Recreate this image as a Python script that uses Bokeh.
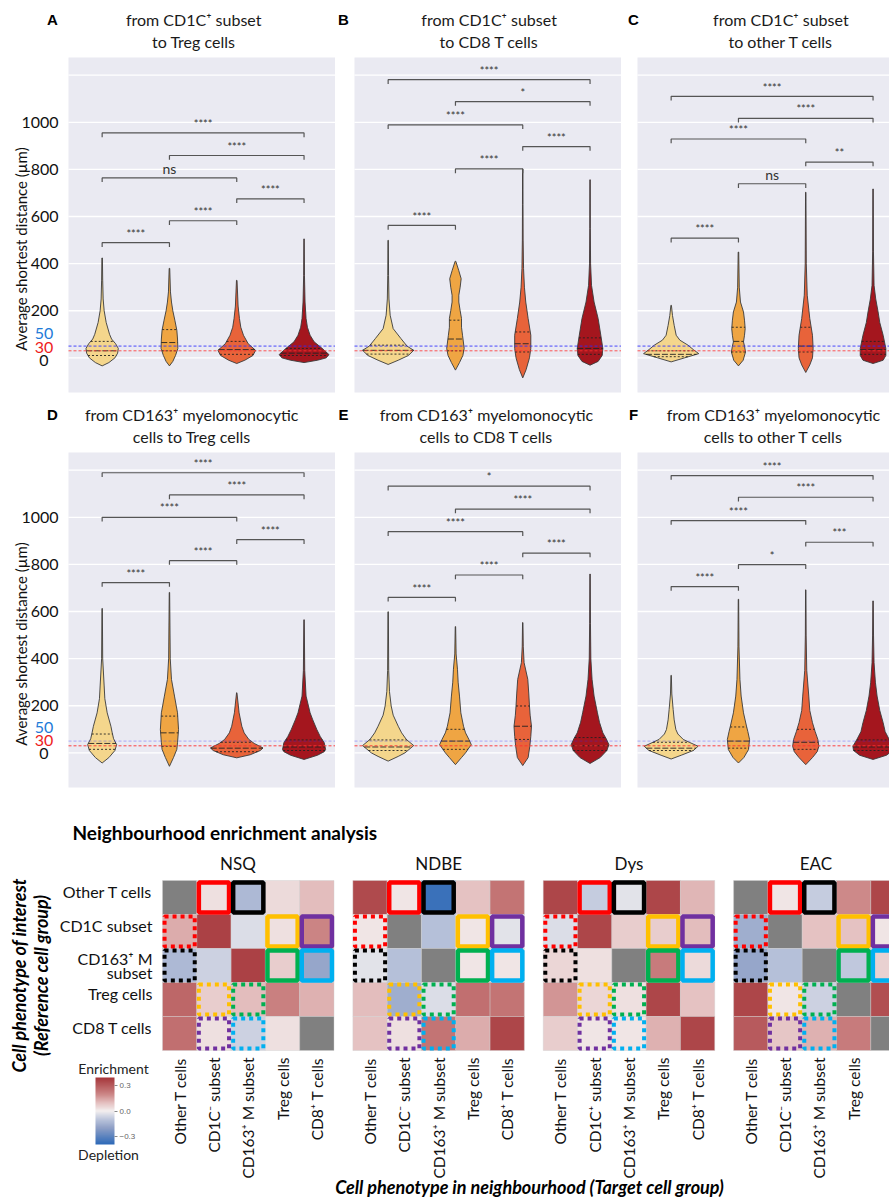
import math
import numpy as np
from bokeh.plotting import figure
from bokeh.models import (Label, Range1d, BoxAnnotation, ColorBar, LinearColorMapper,
                          FixedTicker, ColumnDataSource)
from bokeh.layouts import column, row
from bokeh.embed import file_html
from bokeh.resources import INLINE

# ----------------------------------------------------------------- data
violin_colors = ["#F4D68C", "#EFA543", "#E8633A", "#A4161E"]
thresholds = [50, 30]
y_ticks = [200, 400, 600, 800, 1000]
grid_ticks = [0, 200, 400, 600, 800, 1000, 1200]

panel_letters = ["A", "B", "C", "D", "E", "F"]
panel_titles = [
    ("from CD1C\u207a subset", "to Treg cells"),
    ("from CD1C\u207a subset", "to CD8 T cells"),
    ("from CD1C\u207a subset", "to other T cells"),
    ("from CD163\u207a myelomonocytic", "cells to Treg cells"),
    ("from CD163\u207a myelomonocytic", "cells to CD8 T cells"),
    ("from CD163\u207a myelomonocytic", "cells to other T cells"),
]

# violin profiles: (distance in um, half width in category units)
violins_A = [
    [(-34, 0), (-20, .10), (0, .19), (20, .23), (40, .24), (60, .20), (80, .14), (100, .11), (150, .06), (200, .03), (250, .015), (330, .008), (424, .004)],
    [(-34, 0), (-15, .05), (10, .09), (40, .125), (80, .12), (117, .11), (160, .08), (200, .05), (237, .03), (280, .015), (380, .004)],
    [(-24, 0), (-10, .12), (10, .24), (32, .28), (60, .17), (96, .10), (130, .06), (167, .04), (220, .02), (329, .004)],
    [(-20, 0), (-10, .20), (0, .33), (14, .37), (40, .27), (68, .15), (96, .09), (130, .05), (167, .03), (237, .015), (350, .006), (505, .003)],
]
violins_B = [
    [(-28, 0), (-10, .15), (10, .30), (32, .38), (50, .28), (82, .19), (124, .075), (181, .03), (250, .012), (350, .006), (499, .003)],
    [(-52, 0), (-20, .06), (10, .11), (40, .13), (96, .105), (130, .09), (167, .09), (200, .07), (237, .05), (266, .05), (300, .07), (336, .085), (370, .05), (410, .005)],
    [(-85, 0), (-50, .05), (0, .10), (40, .12), (96, .12), (167, .08), (237, .045), (300, .025), (379, .012), (500, .006), (650, .004), (802, .003)],
    [(-31, 0), (-15, .12), (10, .18), (40, .19), (96, .16), (167, .12), (237, .06), (308, .022), (400, .008), (550, .004), (756, .003)],
]
violins_C = [
    [(-17, 0), (0, .20), (18, .41), (35, .33), (54, .25), (75, .13), (96, .075), (138, .045), (180, .02), (223, .004)],
    [(-34, 0), (-10, .07), (25, .105), (50, .09), (68, .075), (96, .09), (124, .10), (160, .09), (195, .075), (237, .03), (300, .012), (449, .004)],
    [(-62, 0), (-30, .06), (0, .10), (40, .11), (96, .10), (167, .06), (266, .022), (400, .008), (703, .003)],
    [(-24, 0), (-10, .15), (10, .19), (40, .19), (96, .15), (150, .10), (195, .075), (250, .04), (308, .015), (450, .006), (717, .003)],
]
violins_D = [
    [(-43, 0), (-20, .10), (10, .19), (35, .215), (60, .17), (85, .15), (113, .13), (170, .075), (230, .04), (284, .03), (400, .008), (613, .003)],
    [(-57, 0), (-20, .06), (15, .11), (43, .12), (99, .135), (170, .12), (241, .075), (312, .03), (400, .012), (681, .003)],
    [(-21, 0), (-8, .20), (10, .35), (21, .39), (40, .26), (57, .18), (85, .11), (113, .075), (170, .035), (255, .003)],
    [(-28, 0), (-10, .20), (5, .30), (14, .32), (43, .30), (70, .24), (99, .19), (140, .13), (170, .09), (241, .03), (350, .01), (565, .003)],
]
violins_E = [
    [(-35, 0), (-15, .15), (0, .25), (31, .38), (57, .27), (85, .20), (113, .15), (160, .075), (199, .045), (260, .02), (350, .008), (599, .003)],
    [(-50, 0), (-20, .09), (0, .15), (35, .235), (57, .20), (85, .15), (113, .12), (170, .08), (241, .06), (300, .04), (355, .03), (420, .01), (536, .003)],
    [(-54, 0), (-20, .08), (28, .105), (70, .12), (113, .13), (160, .11), (199, .10), (250, .09), (312, .075), (383, .02), (450, .008), (553, .003)],
    [(-45, 0), (-20, .15), (10, .25), (35, .28), (60, .24), (85, .19), (130, .14), (170, .11), (241, .06), (312, .03), (400, .012), (550, .006), (759, .003)],
]
violins_F = [
    [(-26, 0), (-10, .15), (10, .33), (28, .40), (45, .27), (57, .18), (80, .10), (99, .07), (140, .045), (184, .03), (250, .01), (329, .003)],
    [(-43, 0), (-20, .08), (14, .15), (57, .165), (90, .14), (113, .12), (170, .075), (241, .04), (312, .022), (450, .008), (652, .003)],
    [(-50, 0), (-20, .10), (5, .17), (28, .195), (57, .18), (90, .14), (128, .10), (180, .06), (241, .045), (350, .015), (500, .006), (692, .003)],
    [(-28, 0), (-10, .20), (10, .29), (28, .30), (57, .24), (90, .18), (128, .15), (180, .10), (241, .06), (300, .035), (383, .015), (500, .007), (645, .003)],
]

# quartiles (q1, median, q3) for each violin
quart_A = [[10, 30, 70], [30, 65, 120], [15, 35, 70], [10, 20, 40]]
quart_B = [[16, 32, 54], [30, 80, 160], [25, 60, 110], [15, 40, 85]]
quart_C = [[5, 15, 30], [25, 70, 130], [25, 50, 130], [15, 35, 70]]
quart_D = [[15, 40, 80], [28, 85, 156], [5, 20, 45], [10, 25, 55]]
quart_E = [[10, 25, 55], [15, 50, 100], [57, 113, 199], [10, 30, 65]]
quart_F = [[10, 20, 45], [20, 50, 110], [15, 45, 100], [10, 25, 55]]

# significance brackets: (group i, group j, height in um, label)
brackets_A = [(0, 1, 489, "****"), (1, 2, 582, "****"), (0, 2, 764, "ns"), (2, 3, 675, "****"), (1, 3, 859, "****"), (0, 3, 955, "****")]
brackets_B = [(0, 1, 562, "****"), (1, 2, 802, "****"), (2, 3, 897, "****"), (0, 2, 989, "****"), (1, 3, 1088, "*"), (0, 3, 1181, "****")]
brackets_C = [(0, 1, 508, "****"), (1, 2, 739, "ns"), (2, 3, 831, "**"), (0, 2, 929, "****"), (1, 3, 1017, "****"), (0, 3, 1110, "****")]
brackets_D = [(0, 1, 723, "****"), (1, 2, 816, "****"), (2, 3, 905, "****"), (0, 2, 1000, "****"), (1, 3, 1095, "****"), (0, 3, 1189, "****")]
brackets_E = [(0, 1, 660, "****"), (1, 2, 755, "****"), (2, 3, 848, "****"), (0, 2, 939, "****"), (1, 3, 1035, "****"), (0, 3, 1132, "*")]
brackets_F = [(0, 1, 706, "****"), (1, 2, 799, "*"), (2, 3, 894, "***"), (0, 2, 986, "****"), (1, 3, 1085, "****"), (0, 3, 1177, "****")]

# heatmaps
heat_groups = ["NSQ", "NDBE", "Dys", "EAC"]
row_labels = ["Other T cells", "CD1C subset", "CD163\u207a M\nsubset", "Treg cells", "CD8 T cells"]
cols_NSQ = ["Other T cells", "CD1C\u207b subset", "CD163\u207a M subset", "Treg cells", "CD8\u207a T cells"]
cols_NDBE = ["Other T cells", "CD1C\u207b subset", "CD163\u207a M subset", "Treg cells", "CD8\u207a T cells"]
cols_Dys = ["Other T cells", "CD1C\u207a subset", "CD163\u207a M subset", "Treg cells", "CD8\u207a T cells"]
cols_EAC = ["Other T cells", "CD1C\u207b subset", "CD163\u207a M subset", "Treg cells", "CD8\u207a T cells"]
heat_NSQ = [[None, 0.03, -0.13, 0.04, 0.10],
            [0.13, 0.36, -0.04, 0.03, 0.20],
            [-0.13, -0.07, 0.36, 0.07, -0.18],
            [0.27, 0.07, 0.10, 0.21, 0.12],
            [0.25, 0.03, -0.07, 0.03, None]]
heat_NDBE = [[0.34, 0.02, -0.36, 0.09, 0.24],
             [0.02, None, -0.11, 0.02, -0.03],
             [-0.03, -0.11, None, 0.02, 0.02],
             [0.10, -0.16, -0.04, 0.25, 0.24],
             [0.09, 0.03, 0.24, 0.13, 0.35]]
heat_Dys = [[0.35, -0.08, -0.03, 0.35, 0.11],
            [-0.04, 0.35, 0.07, 0.07, 0.10],
            [0.05, 0.03, None, 0.22, 0.04],
            [0.17, 0.05, 0.03, 0.35, 0.09],
            [0.07, 0.02, 0.02, 0.12, 0.35]]
heat_EAC = [[None, 0.02, -0.08, 0.19, 0.35],
            [-0.16, None, 0.09, 0.09, 0.02],
            [-0.18, -0.11, None, -0.09, 0.06],
            [0.35, 0.02, -0.07, None, 0.33],
            [0.30, 0.08, 0.12, 0.22, None]]
# highlighted cells: (row, col, colour)
solid_boxes = [(0, 1, "#FF0000"), (0, 2, "#000000"), (1, 3, "#FFC000"), (1, 4, "#7030A0"), (2, 3, "#00B050"), (2, 4, "#00B0F0")]
dotted_boxes = [(1, 0, "#FF0000"), (2, 0, "#000000"), (3, 1, "#FFC000"), (3, 2, "#00B050"), (4, 1, "#7030A0"), (4, 2, "#00B0F0")]
cmap_stops = [-0.39, -0.2, -0.1, 0.0, 0.1, 0.2, 0.39]
cmap_colors = ["#2C69B8", "#8E9FC6", "#BAC4DB", "#F3EFEF", "#E3BDBD", "#CB8484", "#A5363A"]
cbar_ticks = [-0.3, 0, 0.3]

# ----------------------------------------------------------------- style / layout
FONT = "Lato"
BG = "#EAEAF2"
YR = (-147, 1275)          # visible distance range of each violin panel
PX_X = 67.3                # pixels per violin category
PLOT_H = 335               # pixel height of violin plot areas
PY = PLOT_H / (YR[1] - YR[0])


def lab(p, x, y, text, size="16px", color="#1a1a1a", align="center", baseline="middle",
        font=FONT, style="normal", angle=0.0):
    p.add_layout(Label(x=x, y=y, text=text, text_font=font, text_font_size=size,
                       text_color=color, text_align=align, text_baseline=baseline,
                       text_font_style=style, angle=angle, angle_units="rad"))


def canvas_fig(W, H, xr, yr):
    p = figure(width=W, height=H, x_range=Range1d(*xr), y_range=Range1d(*yr),
               x_axis_location=None, y_axis_location=None, toolbar_location=None,
               output_backend="svg", min_border=0)
    p.xgrid.visible = False
    p.ygrid.visible = False
    p.background_fill_color = "white"
    p.border_fill_color = "white"
    p.outline_line_color = None
    return p


def violin_panel(k, violins, quarts, brackets, W, left_px, top_px, bottom_px,
                 with_axis, title_x, letter_x, row_id):
    H = top_px + PLOT_H + bottom_px
    x0, x1 = -left_px / PX_X, (W - left_px) / PX_X
    y0, y1 = YR[0] - bottom_px / PY, YR[1] + top_px / PY
    p = canvas_fig(W, H, (x0, x1), (y0, y1))
    p.add_layout(BoxAnnotation(left=0, bottom=YR[0], top=YR[1], fill_color=BG, fill_alpha=1,
                               line_color=None, level="underlay"))
    p.segment(x0=[0] * len(grid_ticks), x1=[x1] * len(grid_ticks), y0=grid_ticks,
              y1=grid_ticks, line_color="white", line_width=1.3)

    for i, knots in enumerate(violins):
        ys = [kk[0] for kk in knots]
        ws = [kk[1] for kk in knots]
        cx = i + 0.5
        xs = [cx + w for w in ws] + [cx - w for w in reversed(ws)]
        yy = ys + ys[::-1]
        p.patch(xs, yy, fill_color=violin_colors[i], line_color="#3a3a3a", line_width=0.9)
        for q, dash in zip(quarts[i], ["2 2", "6 2", "2 2"]):
            w = float(np.interp(q, ys, ws))
            p.line([cx - w, cx + w], [q, q], line_color="#222222", line_width=0.9, line_dash=dash)

    for (i, j, yb, text) in brackets:
        p.line([i + 0.5, i + 0.5, j + 0.5, j + 0.5], [yb - 18, yb, yb, yb - 18],
               line_color="#555555", line_width=1.2)
        if text == "ns":
            lab(p, (i + j) / 2 + 0.5, yb + 5, text, size="14px", color="#333333", baseline="bottom")
        else:
            lab(p, (i + j) / 2 + 0.5, yb + 12, text, size="11px", color="#333333", baseline="bottom")

    a1 = 0.85 if row_id == 0 else 0.35
    a2 = 0.8 if row_id == 0 else 0.9
    p.segment(x0=[0], x1=[x1], y0=[thresholds[0]], y1=[thresholds[0]], line_color="#2b2bff",
              line_dash="3 2", line_width=1, line_alpha=a1)
    p.segment(x0=[0], x1=[x1], y0=[thresholds[1]], y1=[thresholds[1]], line_color="#ff3030",
              line_dash="3 2", line_width=1, line_alpha=a2)

    t1, t2 = panel_titles[k]
    lab(p, title_x, 1437, t1, size="16px")
    lab(p, title_x, 1345, t2, size="16px")
    lab(p, letter_x, 1437, panel_letters[k], size="15px", color="#000000",
        font="Liberation Sans", style="bold")

    if with_axis:
        for t in y_ticks:
            lab(p, -10 / PX_X, t, str(t), size="16px", color="#111111", align="right")
        pos = [104, 44, -11] if row_id == 0 else [109, 53, -1]
        for yv, t, c in zip(pos, ["50", "30", "0"], ["#1E7BD8", "#EE1C1C", "#111111"]):
            lab(p, -24.5 / PX_X, yv, t, size="16px", color=c)
        lab(p, -48 / PX_X, 462, "Average shortest distance (\u00b5m)", size="15px",
            color="#111111", angle=math.pi / 2)
    return p


ROW1 = dict(top_px=57, bottom_px=2)
ROW2 = dict(top_px=58, bottom_px=3)
pA = violin_panel(0, violins_A, quart_A, brackets_A, 335, 68, with_axis=True,
                  title_x=1.86, letter_x=-0.238, row_id=0, **ROW1)
pB = violin_panel(1, violins_B, quart_B, brackets_B, 286, 19, with_axis=False,
                  title_x=2.0, letter_x=-0.163, row_id=0, **ROW1)
pC = violin_panel(2, violins_C, quart_C, brackets_C, 268, 16, with_axis=False,
                  title_x=2.13, letter_x=-0.06, row_id=0, **ROW1)
pD = violin_panel(3, violins_D, quart_D, brackets_D, 335, 68, with_axis=True,
                  title_x=1.83, letter_x=-0.238, row_id=1, **ROW2)
pE = violin_panel(4, violins_E, quart_E, brackets_E, 286, 19, with_axis=False,
                  title_x=1.96, letter_x=-0.163, row_id=1, **ROW2)
pF = violin_panel(5, violins_F, quart_F, brackets_F, 268, 16, with_axis=False,
                  title_x=2.02, letter_x=-0.06, row_id=1, **ROW2)


# ----------------------------------------------------------------- heatmaps
def build_palette():
    av = np.array(cmap_stops)
    rgb = np.array([[int(c[i:i + 2], 16) for i in (1, 3, 5)] for c in cmap_colors], float)
    out = []
    for v in np.linspace(cmap_stops[0], cmap_stops[-1], 256):
        r, g, b = (np.interp(v, av, rgb[:, ch]) for ch in range(3))
        out.append("#%02x%02x%02x" % (int(round(r)), int(round(g)), int(round(b))))
    return out


mapper = LinearColorMapper(palette=build_palette(), low=cmap_stops[0], high=cmap_stops[-1],
                           nan_color="#808080")
CELL_X = 34.3
CELL_Y = 34.0
GAP = 0.55
HW, HL, HT, HB = 889, 162, 90, 148
HH = HT + 5 * CELL_Y + HB
X_END = (HW - HL) / CELL_X
ph = canvas_fig(HW, int(HH), (-HL / CELL_X, X_END), (-HB / CELL_Y, 5 + HT / CELL_Y))

heat_data = {"NSQ": heat_NSQ, "NDBE": heat_NDBE, "Dys": heat_Dys, "EAC": heat_EAC}
heat_cols = {"NSQ": cols_NSQ, "NDBE": cols_NDBE, "Dys": cols_Dys, "EAC": cols_EAC}
title_off = {"NSQ": 2.2, "NDBE": 2.5, "Dys": 2.5, "EAC": 2.4}

for g, name in enumerate(heat_groups):
    x0 = g * (5 + GAP)
    vals = np.array(heat_data[name], dtype=float)
    xs, ys, vs = [], [], []
    for r in range(5):
        for c in range(5):
            xs.append(x0 + c + 0.5)
            ys.append(4.5 - r)
            vs.append(vals[r, c])
    src = ColumnDataSource(dict(x=xs, y=ys, v=vs))
    ph.rect(x="x", y="y", width=1, height=1, source=src,
            fill_color={"field": "v", "transform": mapper},
            line_color="#d0d0d0", line_width=0.6, line_alpha=0.7)
    for (r, c, col) in solid_boxes:
        ph.rect(x=[x0 + c + 0.5], y=[4.5 - r], width=0.88, height=0.88, fill_color=None,
                line_color=col, line_width=4.5)
    for (r, c, col) in dotted_boxes:
        ph.rect(x=[x0 + c + 0.5], y=[4.5 - r], width=0.88, height=0.88, fill_color=None,
                line_color=col, line_width=4, line_dash="4 4")
    for c, cname in enumerate(heat_cols[name]):
        if x0 + c + 0.5 + 0.3 <= X_END:   # the last EAC column is cut off at the edge
            lab(ph, x0 + c + 0.5, -7 / CELL_Y, cname, size="15.5px", color="#111111",
                align="right", angle=math.pi / 2)
    lab(ph, x0 + title_off[name], 5.5, name, size="17px", color="#111111")

for r, rl in enumerate(row_labels):
    lines = rl.split("\n")
    if len(lines) == 1:
        lab(ph, -10 / CELL_X, 4.5 - r + 0.17, rl, size="16px", color="#111111", align="right")
    else:
        lab(ph, -10 / CELL_X, 4.5 - r + 0.22, lines[0], size="16px", color="#111111", align="right")
        lab(ph, -10 / CELL_X, 4.5 - r - 0.2, lines[1], size="16px", color="#111111", align="right")

lab(ph, -90 / CELL_X, 5 + 48 / CELL_Y, "Neighbourhood enrichment analysis", size="19px",
    color="#000000", align="left", style="bold")
lab(ph, -144 / CELL_X, 5 - 95 / CELL_Y, "Cell phenotype of interest", size="18px",
    color="#000000", style="bold italic", angle=math.pi / 2)
lab(ph, -122 / CELL_X, 5 - 95 / CELL_Y, "(Reference cell group)", size="18px",
    color="#000000", style="bold italic", angle=math.pi / 2)
lab(ph, 367 / CELL_X, -136 / CELL_Y, "Cell phenotype in neighbourhood (Target cell group)",
    size="18px", color="#000000", style="bold italic")
lab(ph, -49 / CELL_X, -18 / CELL_Y, "Enrichment", size="14px", color="#222222")
lab(ph, -54 / CELL_X, -104 / CELL_Y, "Depletion", size="14px", color="#222222")

cb = ColorBar(color_mapper=mapper, location=(95, int(HH) - (1144 - 790)), orientation="vertical",
              width=19, height=67, padding=0, margin=0, ticker=FixedTicker(ticks=cbar_ticks),
              major_label_overrides={0.3: "0.3", 0: "0.0", -0.3: "\u22120.3"},
              major_label_text_font_size="8px", major_label_text_color="#666666",
              major_tick_in=0, major_tick_out=3, major_tick_line_color="#888888",
              bar_line_color=None, border_line_color=None, background_fill_alpha=0,
              label_standoff=2)
ph.add_layout(cb, "center")

layout = column(row(pA, pB, pC), row(pD, pE, pF), ph)
open("out.html", "w").write(file_html(layout, INLINE))
